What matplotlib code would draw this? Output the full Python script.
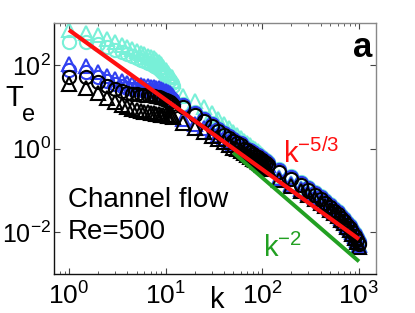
import matplotlib
matplotlib.use("Agg")
import matplotlib.pyplot as plt
from matplotlib.ticker import LogLocator, NullLocator, NullFormatter

# ------------------------------------------------------------------
# data (three overlapping box sizes)
# ------------------------------------------------------------------
k = [1, 1.5, 2, 2.5, 3, 3.5, 4, 4.5, 5, 5.5, 6, 6.5, 7, 7.5, 8, 8.5, 9, 9.5,
     10, 10.5, 11, 11.5, 12,
     15, 20, 25, 30, 35, 40, 45, 50, 55, 60, 65, 70, 75, 80, 85, 90, 95,
     100, 105, 110, 115,
     150, 200, 250, 300, 350, 400, 450, 500, 550, 600, 650, 700, 750, 800,
     850, 900, 950, 1000]

cyan_tri = [681, 578, 518, 416, 353, 299, 268, 240, 215, 193, 183, 164, 155,
            147, 132, 118, 106, 89.6, 76.0, 64.5, 54.7, 51.8, 41.6,
            18.0, 13.5, 9.6, 7.0, 5.1, 3.9, 3.1, 2.5, 2.15, 1.83, 1.55,
            1.32, 1.18, 1.056, 0.947, 0.848, 0.760, 0.681, 0.611, 0.548, 0.491,
            0.204, 0.147, 0.112, 0.0896, 0.0720, 0.0578, 0.0490, 0.0394,
            0.0334, 0.0283, 0.0228, 0.0193, 0.0155, 0.0132, 0.0106, 0.00849,
            0.00681, 0.00518]
cyan_circ = [353, 353, 316, 268, 228, 204, 183, 164, 147, 132, 125, 112, 106,
             94.7, 89.6, 80.3, 72.0, 64.5, 57.8, 49.0, 43.9, 37.3, 31.6,
             11.8, 7.6, 5.47, 4.16, 3.16, 2.54, 2.15, 1.83, 1.55, 1.39, 1.18,
             1.056, 0.947, 0.848, 0.760, 0.720, 0.645, 0.611, 0.548, 0.518,
             0.464,
             0.316, 0.215, 0.155, 0.118, 0.0896, 0.0720, 0.0578, 0.0464,
             0.0373, 0.0316, 0.0254, 0.0215, 0.0173, 0.0147, 0.0118, 0.00946,
             0.00760, 0.00611]
blue_tri = [106, 94.7, 68.1, 54.7, 46.4, 41.6, 37.3, 35.3, 33.4, 33.4, 31.6,
            31.6, 29.9, 29.9, 28.3, 28.3, 26.8, 25.4, 24.0, 22.8, 21.5, 19.3,
            17.3,
            5.18, 3.94, 3.16, 2.54, 2.15, 1.83, 1.55, 1.32, 1.18, 1.056, 0.947,
            0.848, 0.760, 0.681, 0.645, 0.579, 0.548, 0.491, 0.464, 0.439,
            0.394,
            0.193, 0.139, 0.106, 0.0848, 0.0681, 0.0547, 0.0464, 0.0373,
            0.0316, 0.0268, 0.0215, 0.0183, 0.0147, 0.0125, 0.0100, 0.00803,
            0.00645, 0.00490]
blue_circ = [76.0, 68.1, 51.8, 41.6, 35.3, 31.6, 28.3, 26.8, 26.8, 25.4, 25.4,
             25.4, 24.0, 24.0, 22.8, 22.8, 21.5, 20.4, 19.3, 18.3, 17.3, 15.5,
             13.9,
             11.2, 7.2, 5.18, 3.94, 2.99, 2.40, 2.04, 1.73, 1.47, 1.32, 1.116,
             1.0, 0.896, 0.803, 0.720, 0.681, 0.611, 0.579, 0.518, 0.491,
             0.439,
             0.299, 0.204, 0.147, 0.112, 0.0848, 0.0681, 0.0547, 0.0439,
             0.0353, 0.0299, 0.0240, 0.0204, 0.0164, 0.0139, 0.0112, 0.00896,
             0.00720, 0.00578]
black_circ = [51.8, 51.8, 39.4, 31.6, 26.8, 24.0, 21.5, 20.4, 20.4, 19.3, 19.3,
              19.3, 18.3, 18.3, 17.3, 17.3, 16.4, 15.5, 14.7, 13.9, 13.2,
              11.8, 10.6,
              10.0, 6.45, 4.64, 3.53, 2.68, 2.15, 1.83, 1.55, 1.32, 1.18, 1.00,
              0.896, 0.803, 0.720, 0.645, 0.611, 0.548, 0.518, 0.464, 0.439,
              0.394,
              0.268, 0.183, 0.132, 0.100, 0.0760, 0.0611, 0.0490, 0.0394,
              0.0316, 0.0268, 0.0215, 0.0183, 0.0147, 0.0125, 0.0100, 0.00803,
              0.00645, 0.00518]
black_tri = [35.3, 28.3, 21.5, 16.4, 13.2, 11.2, 10.0, 8.96, 8.48, 8.03, 7.60,
             7.60, 7.20, 7.20, 6.81, 6.81, 6.45, 6.45, 6.45, 6.11, 6.11, 6.11,
             5.78,
             4.16, 3.16, 2.54, 2.04, 1.73, 1.47, 1.245, 1.056, 0.947, 0.848,
             0.760, 0.681, 0.611, 0.548, 0.518, 0.464, 0.439, 0.394, 0.373,
             0.353, 0.316,
             0.173, 0.125, 0.0946, 0.0760, 0.0611, 0.0490, 0.0416, 0.0334,
             0.0283, 0.0240, 0.0193, 0.0164, 0.0132, 0.0112, 0.00896, 0.00720,
             0.00578, 0.00439]

# power-law guide lines
red_k = [1, 1000]
red_T = [680, 0.0068]
green_k = [50, 1000]
green_T = [0.8, 0.002]

x_ticks = [1, 10, 100, 1000]
y_ticks = [1e-2, 1, 1e2]

CYAN = "#78F0D8"
BLUE = "#3040F0"
RED = "#FF1010"
GREEN = "#22A022"

plt.rcParams.update({
    "font.family": ["Liberation Sans", "DejaVu Sans"],
    "mathtext.fontset": "custom",
    "mathtext.rm": "Liberation Sans",
    "mathtext.it": "Liberation Sans:italic",
    "mathtext.bf": "Liberation Sans:bold",
})

fig = plt.figure(figsize=(4.15, 3.13), dpi=100)
ax = fig.add_axes([54 / 415, 39 / 313, 322 / 415, 251 / 313])

mk = dict(linestyle="none", markerfacecolor="none", markeredgewidth=1.5)
series = [
    (cyan_circ, CYAN, "o", 9.5),
    (cyan_tri, CYAN, "^", 10.5),
    (blue_circ, BLUE, "o", 9.5),
    (blue_tri, BLUE, "^", 10.5),
    (black_circ, "black", "o", 9.5),
    (black_tri, "black", "^", 10.5),
]
for vals, col, m, ms in series:
    ax.plot(k, vals, marker=m, markersize=ms, markeredgecolor=col, zorder=2, **mk)

ax.plot(green_k, green_T, color=GREEN, linewidth=2.8, zorder=3,
        solid_capstyle="butt")
ax.plot(red_k, red_T, color=RED, linewidth=3.0, zorder=4,
        solid_capstyle="butt")

ax.set_xscale("log")
ax.set_yscale("log")
ax.set_xlim(0.7, 1500)
ax.set_ylim(1e-3, 1e3)
ax.set_xticks(x_ticks)
ax.set_yticks(y_ticks)
ax.yaxis.set_minor_locator(NullLocator())
ax.xaxis.set_minor_locator(LogLocator(base=10, subs=range(2, 10), numticks=20))
ax.xaxis.set_minor_formatter(NullFormatter())

ax.tick_params(which="both", direction="in", top=True, right=True,
               color="#444444")
ax.tick_params(axis="x", labelsize=19, pad=6)
ax.tick_params(axis="y", labelsize=18, pad=2)
ax.tick_params(which="major", length=4, width=0.8)
ax.tick_params(which="minor", length=2, width=0.6)

for side in ["left", "bottom"]:
    ax.spines[side].set_color("#111111")
for side in ["top", "right"]:
    ax.spines[side].set_color("#888888")
for sp in ax.spines.values():
    sp.set_linewidth(1.0)

ax.text(0.0435, 0.267, "Channel flow", transform=ax.transAxes,
        fontsize=20, va="baseline", ha="left")
ax.text(0.0435, 0.139, "Re=500", transform=ax.transAxes,
        fontsize=20, va="baseline", ha="left")
ax.text(0.711, 0.442, r"k$^{-5/3}$", transform=ax.transAxes,
        fontsize=21, va="baseline", ha="left", color=RED)
ax.text(0.649, 0.068, r"k$^{-2}$", transform=ax.transAxes,
        fontsize=21, va="baseline", ha="left", color=GREEN)
ax.text(0.988, 0.865, "a", transform=ax.transAxes, fontsize=25,
        fontweight="bold", va="baseline", ha="right")

fig.text(5 / 415, 1 - 106 / 313, "T", fontsize=21, va="baseline", ha="left")
fig.text(22 / 415, 1 - 121 / 313, "e", fontsize=17, va="baseline", ha="left")
fig.text(210 / 415, 1 - 308 / 313, "k", fontsize=21, va="baseline", ha="left")

fig.savefig("out.png", dpi=100, facecolor="white")
